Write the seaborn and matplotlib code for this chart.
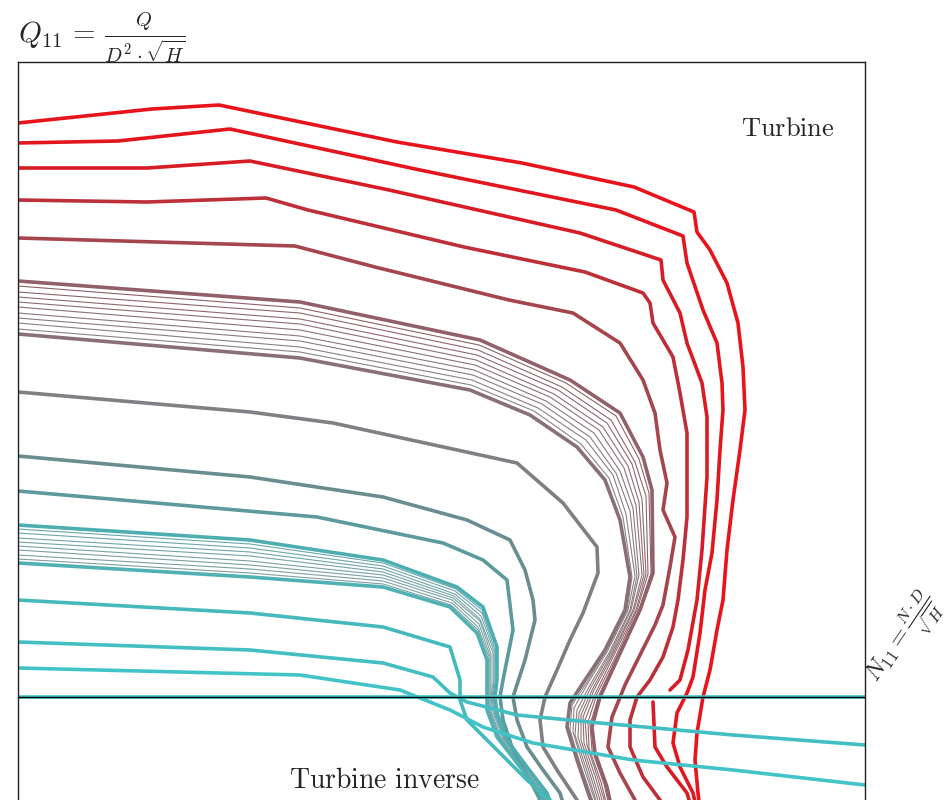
import seaborn as sns
import matplotlib.pyplot as plt

sns.set_theme(style="white")
plt.rcParams["mathtext.fontset"] = "cm"
plt.rcParams["font.family"] = ["DejaVu Serif"]

# Iso-opening curves, N11 (rpm) vs Q11 (m3/s), largest opening first
r1_n = [0.0, 13.4, 20.1, 37.9, 50.4, 61.6, 67.6, 67.9, 69.2, 70.9, 72.0, 72.5, 72.7, 72.2, 71.5, 70.9, 70.5, 69.9, 69.2, 68.5, 67.9, 67.7, 68.0, 68.2]
r1_q = [0.574, 0.588, 0.592, 0.555, 0.534, 0.510, 0.485, 0.465, 0.447, 0.414, 0.374, 0.330, 0.287, 0.247, 0.197, 0.147, 0.097, 0.067, 0.027, 0.000, -0.036, -0.063, -0.096, -0.113]
r2_n = [0.0, 10.0, 21.2, 40.2, 59.8, 66.5, 66.9, 68.5, 69.9, 70.4, 70.5, 70.2, 69.9, 69.4, 68.7, 68.2, 67.5, 66.9, 65.9, 65.5, 66.2, 67.5, 67.9]
r2_q = [0.554, 0.556, 0.568, 0.527, 0.487, 0.461, 0.434, 0.387, 0.354, 0.314, 0.287, 0.247, 0.197, 0.144, 0.107, 0.064, 0.020, 0.004, -0.016, -0.046, -0.070, -0.096, -0.113]
r3_n = [0.0, 12.9, 23.2, 37.1, 56.2, 64.3, 64.5, 66.2, 66.9, 68.4, 68.9, 68.9, 68.4, 67.9, 67.0, 66.2, 65.2]
r3_q = [0.529, 0.529, 0.536, 0.507, 0.464, 0.437, 0.417, 0.384, 0.354, 0.314, 0.280, 0.220, 0.147, 0.097, 0.047, 0.017, 0.007]
r3b_n = [63.5, 63.7, 64.9, 66.9, 67.4]
r3b_q = [-0.005, -0.050, -0.070, -0.096, -0.113]
r4_n = [0.0, 12.9, 24.8, 29.0, 44.6, 56.7, 62.5, 63.2, 63.5, 65.5, 66.2, 66.9, 66.9, 66.5, 66.0, 65.5, 64.5, 63.2, 61.9, 61.2, 61.2, 62.5, 64.2, 64.7]
r4_q = [0.497, 0.495, 0.499, 0.487, 0.450, 0.425, 0.404, 0.394, 0.374, 0.340, 0.304, 0.264, 0.180, 0.137, 0.097, 0.070, 0.040, 0.017, 0.000, -0.023, -0.050, -0.080, -0.103, -0.113]
r5_n = [0.0, 27.7, 35.7, 49.1, 55.5, 60.2, 62.5, 63.7, 64.2, 64.9, 64.5, 65.7, 65.2, 64.5, 63.7, 62.2, 60.7, 59.4, 59.0, 60.2, 61.7, 62.2]
r5_q = [0.459, 0.451, 0.430, 0.397, 0.384, 0.354, 0.317, 0.284, 0.247, 0.214, 0.187, 0.160, 0.130, 0.092, 0.072, 0.042, 0.012, -0.020, -0.050, -0.076, -0.103, -0.113]
c6_n = [0.0, 28.2, 46.2, 55.2, 60.2, 62.5, 63.4, 63.5, 62.2, 59.9, 58.2, 57.4, 57.7, 58.9, 59.4]
c6_q = [0.416, 0.395, 0.357, 0.317, 0.284, 0.240, 0.207, 0.124, 0.087, 0.037, 0.000, -0.030, -0.056, -0.090, -0.113]
c7_n = [0.0, 28.2, 45.2, 51.2, 55.9, 58.7, 60.2, 61.2, 60.7, 58.7, 56.7, 55.2, 54.9, 55.9, 57.6]
c7_q = [0.363, 0.339, 0.307, 0.282, 0.250, 0.217, 0.177, 0.120, 0.087, 0.047, 0.017, -0.006, -0.030, -0.063, -0.113]
c8_n = [0.0, 23.2, 31.5, 49.9, 54.5, 57.9, 58.0, 56.5, 55.2, 53.9, 52.7, 52.2, 52.5, 53.9, 55.9, 56.2]
c8_q = [0.305, 0.285, 0.274, 0.234, 0.194, 0.150, 0.124, 0.084, 0.057, 0.027, 0.000, -0.023, -0.050, -0.073, -0.103, -0.113]
c9_n = [0.0, 23.2, 36.5, 44.9, 49.2, 50.7, 51.5, 51.7, 50.7, 49.5, 49.9, 50.9, 52.5, 54.2, 54.7]
c9_q = [0.241, 0.220, 0.200, 0.177, 0.157, 0.127, 0.097, 0.077, 0.037, 0.000, -0.023, -0.050, -0.073, -0.096, -0.113]
c10_n = [0.0, 29.9, 42.5, 46.5, 48.9, 49.5, 48.5, 48.2, 48.5, 49.5, 51.2, 52.2, 52.5]
c10_q = [0.206, 0.180, 0.154, 0.137, 0.117, 0.067, 0.017, 0.000, -0.023, -0.053, -0.083, -0.103, -0.113]
c11_n = [0.0, 23.2, 36.5, 43.9, 46.5, 47.9, 47.9, 47.7, 47.9, 48.9, 50.9, 52.9, 53.5]
c11_q = [0.172, 0.157, 0.137, 0.110, 0.090, 0.050, 0.017, 0.000, -0.016, -0.043, -0.070, -0.096, -0.113]
c12_n = [0.0, 23.2, 36.5, 43.2, 45.9, 46.9, 46.9, 46.9, 46.9, 47.9, 49.9, 52.2, 52.9]
c12_q = [0.134, 0.120, 0.110, 0.090, 0.064, 0.037, 0.010, 0.000, -0.013, -0.040, -0.066, -0.096, -0.113]
c13_n = [0.0, 23.2, 36.5, 43.2, 44.2, 44.2, 44.9, 48.2, 50.9, 53.2, 54.2]
c13_q = [0.097, 0.084, 0.070, 0.050, 0.017, -0.003, -0.023, -0.056, -0.083, -0.103, -0.113]
c14_n = [0.0, 23.2, 36.5, 41.5, 43.2, 44.9, 49.9, 58.2, 71.5, 84.7]
c14_q = [0.055, 0.047, 0.034, 0.020, 0.004, -0.005, -0.018, -0.026, -0.038, -0.048]
c15_n = [0.0, 28.2, 38.2, 43.2, 46.5, 51.5, 61.5, 71.5, 84.7]
c15_q = [0.029, 0.022, 0.007, -0.013, -0.030, -0.046, -0.063, -0.073, -0.088]
zero_n = [0.0, 84.7]
zero_q = [0.0, 0.0]

# Thin intermediate openings between c6 and c7
thin1_n = [
    [0.0, 28.2, 46.1, 54.8, 59.8, 62.1, 63.1, 63.3, 62.1, 59.8, 58.1, 57.2, 57.4, 58.6, 59.2],
    [0.0, 28.2, 46.0, 54.4, 59.3, 61.7, 62.8, 63.0, 61.9, 59.7, 57.9, 57.0, 57.1, 58.3, 59.0],
    [0.0, 28.2, 45.9, 54.0, 58.9, 61.4, 62.4, 62.8, 61.8, 59.5, 57.8, 56.7, 56.9, 58.0, 58.9],
    [0.0, 28.2, 45.8, 53.6, 58.5, 61.0, 62.1, 62.6, 61.6, 59.4, 57.6, 56.5, 56.6, 57.7, 58.7],
    [0.0, 28.2, 45.7, 53.2, 58.1, 60.6, 61.8, 62.4, 61.5, 59.3, 57.5, 56.3, 56.3, 57.4, 58.5],
    [0.0, 28.2, 45.6, 52.8, 57.6, 60.2, 61.5, 62.1, 61.3, 59.2, 57.3, 56.1, 56.0, 57.1, 58.3],
    [0.0, 28.2, 45.5, 52.4, 57.2, 59.8, 61.2, 61.9, 61.2, 59.1, 57.2, 55.9, 55.7, 56.8, 58.1],
    [0.0, 28.2, 45.4, 52.0, 56.8, 59.5, 60.8, 61.7, 61.0, 58.9, 57.0, 55.6, 55.5, 56.5, 58.0],
    [0.0, 28.2, 45.3, 51.6, 56.3, 59.1, 60.5, 61.4, 60.9, 58.8, 56.9, 55.4, 55.2, 56.2, 57.8],
]
thin1_q = [
    [0.411, 0.389, 0.352, 0.314, 0.281, 0.238, 0.204, 0.124, 0.087, 0.038, 0.002, -0.028, -0.053, -0.087, -0.113],
    [0.405, 0.384, 0.347, 0.310, 0.277, 0.235, 0.201, 0.123, 0.087, 0.039, 0.003, -0.025, -0.051, -0.085, -0.113],
    [0.400, 0.378, 0.342, 0.307, 0.274, 0.233, 0.198, 0.123, 0.087, 0.040, 0.005, -0.023, -0.048, -0.082, -0.113],
    [0.395, 0.373, 0.337, 0.303, 0.270, 0.231, 0.195, 0.122, 0.087, 0.041, 0.007, -0.020, -0.046, -0.079, -0.113],
    [0.390, 0.367, 0.332, 0.300, 0.267, 0.229, 0.192, 0.122, 0.087, 0.042, 0.009, -0.018, -0.043, -0.077, -0.113],
    [0.384, 0.361, 0.327, 0.296, 0.264, 0.226, 0.189, 0.122, 0.087, 0.043, 0.010, -0.016, -0.040, -0.074, -0.113],
    [0.379, 0.356, 0.322, 0.293, 0.260, 0.224, 0.186, 0.121, 0.087, 0.044, 0.012, -0.013, -0.038, -0.071, -0.113],
    [0.374, 0.350, 0.317, 0.289, 0.257, 0.222, 0.183, 0.121, 0.087, 0.045, 0.014, -0.011, -0.035, -0.068, -0.113],
    [0.368, 0.345, 0.312, 0.286, 0.253, 0.219, 0.180, 0.120, 0.087, 0.046, 0.015, -0.008, -0.033, -0.066, -0.113],
]
# Thin intermediate openings between c11 and c12
thin2_n = [
    [0.0, 23.2, 36.5, 43.8, 46.4, 47.8, 47.8, 47.6, 47.8, 48.8, 50.8, 52.8, 53.4],
    [0.0, 23.2, 36.5, 43.7, 46.4, 47.7, 47.7, 47.5, 47.7, 48.7, 50.7, 52.7, 53.4],
    [0.0, 23.2, 36.5, 43.7, 46.3, 47.6, 47.6, 47.4, 47.6, 48.6, 50.6, 52.7, 53.3],
    [0.0, 23.2, 36.5, 43.6, 46.2, 47.5, 47.5, 47.3, 47.5, 48.5, 50.5, 52.6, 53.2],
    [0.0, 23.2, 36.5, 43.5, 46.2, 47.3, 47.3, 47.3, 47.3, 48.3, 50.3, 52.5, 53.2],
    [0.0, 23.2, 36.5, 43.4, 46.1, 47.2, 47.2, 47.2, 47.2, 48.2, 50.2, 52.4, 53.1],
    [0.0, 23.2, 36.5, 43.4, 46.0, 47.1, 47.1, 47.1, 47.1, 48.1, 50.1, 52.4, 53.0],
    [0.0, 23.2, 36.5, 43.3, 46.0, 47.0, 47.0, 47.0, 47.0, 48.0, 50.0, 52.3, 53.0],
]
thin2_q = [
    [0.168, 0.153, 0.134, 0.108, 0.087, 0.049, 0.016, 0.000, -0.016, -0.043, -0.070, -0.096, -0.113],
    [0.164, 0.149, 0.131, 0.106, 0.084, 0.047, 0.015, 0.000, -0.015, -0.042, -0.069, -0.096, -0.113],
    [0.159, 0.145, 0.128, 0.103, 0.081, 0.046, 0.015, 0.000, -0.015, -0.042, -0.069, -0.096, -0.113],
    [0.155, 0.141, 0.125, 0.101, 0.078, 0.044, 0.014, 0.000, -0.015, -0.042, -0.068, -0.096, -0.113],
    [0.151, 0.136, 0.122, 0.099, 0.076, 0.043, 0.013, 0.000, -0.014, -0.041, -0.068, -0.096, -0.113],
    [0.147, 0.132, 0.119, 0.097, 0.073, 0.041, 0.012, 0.000, -0.014, -0.041, -0.067, -0.096, -0.113],
    [0.142, 0.128, 0.116, 0.094, 0.070, 0.040, 0.012, 0.000, -0.014, -0.041, -0.067, -0.096, -0.113],
    [0.138, 0.124, 0.113, 0.092, 0.067, 0.038, 0.011, 0.000, -0.013, -0.040, -0.066, -0.096, -0.113],
]

# Figure and axes placed like the reference frame (bottom is cut off)
fig = plt.figure(figsize=(9.5, 8), dpi=100)
ax = fig.add_axes([18 / 950, 0.0, 847 / 950, 738 / 800])

# Red (largest opening) to cyan (smallest opening)
pal = ["#e8141c", "#e3161e", "#d81c26", "#bd2f39", "#a5454e", "#916068", "#887076",
       "#7e8083", "#6a8d90", "#5c9a9d", "#4caeb1", "#50b1b4", "#46b9bd", "#43bfc3", "#42c3c7"]

thick = [
    (r1_n, r1_q, 0), (r2_n, r2_q, 1), (r3_n, r3_q, 2), (r3b_n, r3b_q, 2),
    (r4_n, r4_q, 3), (r5_n, r5_q, 4), (c6_n, c6_q, 5), (c7_n, c7_q, 6),
    (c8_n, c8_q, 7), (c9_n, c9_q, 8), (c10_n, c10_q, 9), (c11_n, c11_q, 10),
    (c12_n, c12_q, 11), (c13_n, c13_q, 12), (c14_n, c14_q, 13),
    (c15_n, c15_q, 14), (zero_n, zero_q, 14),
]

# Thin bundles first, thick curves on top
thin_pal1 = sns.blend_palette([pal[5], "#8a8486"], 9)
for n, q, c in zip(thin1_n, thin1_q, thin_pal1):
    sns.lineplot(x=n, y=q, sort=False, estimator=None, color=c, lw=0.8, ax=ax)
thin_pal2 = sns.blend_palette(["#6aa7aa", "#7f9fa2"], 8)
for n, q, c in zip(thin2_n, thin2_q, thin_pal2):
    sns.lineplot(x=n, y=q, sort=False, estimator=None, color=c, lw=0.8, ax=ax)

for n, q, i in thick:
    sns.lineplot(x=n, y=q, sort=False, estimator=None, color=pal[i], lw=2.6, ax=ax)

ax.axhline(0, color="black", lw=1.0)

ax.set(xlim=(0, 84.7), ylim=(-0.103, 0.635), xticks=[], yticks=[], xlabel="", ylabel="")
for side in ["left", "right", "top"]:
    ax.spines[side].set_color("#222222")
    ax.spines[side].set_linewidth(1.0)
ax.spines["bottom"].set_visible(False)

# Labels
fig.text(0.019, 0.953, r"$Q_{11}\,=\,\frac{Q}{D^2\cdot\sqrt{H}}$", fontsize=21, ha="left", va="center")
fig.text(0.829, 0.84, r"$\mathrm{Turbine}$", fontsize=19, ha="center", va="center")
fig.text(0.405, 0.024, r"$\mathrm{Turbine\ inverse}$", fontsize=20, ha="center", va="center")
fig.text(0.952, 0.2, r"$N_{11}=\frac{N\cdot D}{\sqrt{H}}$", fontsize=17, rotation=56,
         ha="center", va="center", rotation_mode="anchor")

fig.savefig("out.png", dpi=100)
